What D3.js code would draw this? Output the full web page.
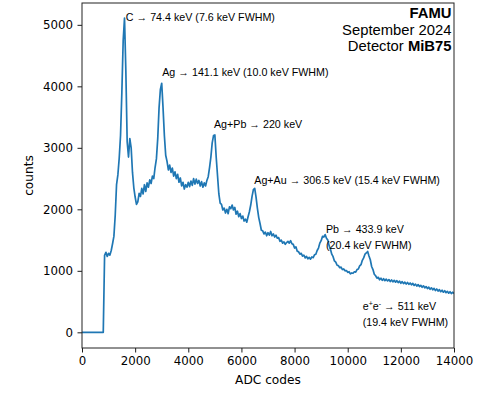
<!DOCTYPE html>
<html>
<head>
<meta charset="utf-8">
<script src="https://cdn.jsdelivr.net/npm/d3@7"></script>
<style>
  body { margin: 0; background: #fff; }
  .tick text { font-family: "DejaVu Sans", sans-serif; font-size: 11.8px; fill: #000; }
  .axisText { font-family: "DejaVu Sans", sans-serif; font-size: 12.2px; fill: #000; }
  .note { font-family: "Liberation Sans", Arial, sans-serif; font-size: 10.7px; fill: #000; }
  .stamp { font-family: "Liberation Sans", Arial, sans-serif; font-size: 14.8px; fill: #000; }
</style>
</head>
<body>
<div class="chart"></div>
<script>
// Spectrum data: counts per ADC bin (bin width 50 ADC codes, starting at 0)
var binWidth = 50;
var counts = [
  0, 0, 0, 0, 0, 0, 0, 0, 0, 0,
  0, 0, 0, 0, 0, 0, 0, 1250, 1300, 1235,
  1285, 1255, 1330, 1440, 1560, 1900, 2400, 2560, 2830, 3200,
  3900, 4750, 5110, 4250, 3100, 2850, 3150, 3000, 2600, 2350,
  2200, 2080, 2120, 2260, 2210, 2340, 2250, 2400, 2290, 2430,
  2360, 2480, 2420, 2540, 2500, 2680, 2820, 3150, 3650, 3950,
  4050, 3650, 3200, 2880, 2780, 2640, 2720, 2600, 2670, 2540,
  2610, 2500, 2570, 2440, 2510, 2380, 2440, 2330, 2400, 2360,
  2440, 2370, 2460, 2390, 2500, 2410, 2490, 2420, 2470, 2380,
  2450, 2360, 2430, 2380, 2470, 2530, 2680, 2850, 3080, 3200,
  3210, 2850, 2550, 2250, 2100, 2080, 1990, 2020, 1940, 2000,
  1930, 2040, 2010, 2070, 1990, 2030, 1920, 1970, 1880, 1930,
  1850, 1890, 1810, 1840, 1790, 1880, 1960, 2070, 2210, 2320,
  2340, 2200, 2020, 1870, 1770, 1660, 1650, 1600, 1630, 1570,
  1620, 1580, 1640, 1570, 1600, 1550, 1580, 1530, 1540, 1480,
  1500, 1450, 1470, 1430, 1460, 1480, 1450, 1490, 1440, 1430,
  1370, 1390, 1320, 1310, 1270, 1285, 1240, 1255, 1210, 1235,
  1195, 1220, 1190, 1225, 1215, 1260, 1270, 1330, 1370, 1450,
  1490, 1560, 1550, 1590, 1530, 1500, 1410, 1350, 1270, 1230,
  1160, 1140, 1090, 1085, 1050, 1060, 1020, 1030, 1000, 1005,
  975, 985, 950, 965, 960, 985, 980, 1020, 1030, 1080,
  1100, 1170, 1210, 1270, 1290, 1315, 1240, 1180, 1070, 1020,
  945, 920, 880, 895, 855, 880, 845, 872, 840, 865,
  835, 858, 826, 852, 820, 846, 815, 840, 808, 832,
  798, 824, 792, 816, 786, 810, 780, 802, 772, 796,
  762, 784, 752, 776, 744, 764, 732, 756, 722, 744,
  710, 734, 700, 724, 690, 714, 680, 704, 670, 694,
  660, 684, 652, 676, 644, 666, 636, 660, 630, 652,
  630
];

var xTicks = [0, 2000, 4000, 6000, 8000, 10000, 12000, 14000];
var yTicks = [0, 1000, 2000, 3000, 4000, 5000];

// Peak labels, anchored in data coordinates (ADC code, counts)
var peakText = [
  ["C \u2192 74.4 keV (7.6 keV FWHM)"],
  ["Ag \u2192 141.1 keV (10.0 keV FWHM)"],
  ["Ag+Pb \u2192 220 keV"],
  ["Ag+Au \u2192 306.5 keV (15.4 keV FWHM)"],
  ["Pb \u2192 433.9 keV", "(20.4 keV FWHM)"],
  ["e+e- \u2192 511 keV", "(19.4 keV FWHM)"]
];
var peakAdc = [1650, 3020, 4967, 6484, 9182, 10563];
var peakCounts = [5059, 4165, 3320, 2410, 1614, 370];

var stampLines = ["FAMU", "September 2024", "Detector MiB75"];

// SVG area
var svgWidth = 486;
var svgHeight = 394;

var margin = {
  top: 3,
  right: 32,
  bottom: 46,
  left: 82
};

var width = svgWidth - margin.left - margin.right;
var height = svgHeight - margin.top - margin.bottom;

var svg = d3.select(".chart")
  .append("svg")
  .attr("width", svgWidth)
  .attr("height", svgHeight);

var chartGroup = svg.append("g")
  .attr("transform", `translate(${margin.left}, ${margin.top})`);

var spectrum = counts.map(function(c, i) {
  return { adc: i * binWidth, count: c };
});

// Scales
var xLinearScale = d3.scaleLinear()
  .domain([0, 14000])
  .range([0, width]);

var yLinearScale = d3.scaleLinear()
  .domain([-255, 5355])
  .range([height, 0]);

// Axes
var bottomAxis = d3.axisBottom(xLinearScale).tickValues(xTicks)
  .tickFormat(d3.format("d")).tickSize(4.5).tickPadding(4);
var leftAxis = d3.axisLeft(yLinearScale).tickValues(yTicks)
  .tickFormat(d3.format("d")).tickSize(4.5).tickPadding(4.5);

chartGroup.append("defs").append("clipPath")
  .attr("id", "plotClip")
  .append("rect")
  .attr("width", width)
  .attr("height", height);

// Spectrum line
var line = d3.line()
  .x(d => xLinearScale(d.adc))
  .y(d => yLinearScale(d.count));

chartGroup.append("path")
  .datum(spectrum)
  .attr("clip-path", "url(#plotClip)")
  .attr("fill", "none")
  .attr("stroke", "#1f77b4")
  .attr("stroke-width", 1.7)
  .attr("stroke-linejoin", "round")
  .attr("d", line);

var xAxisG = chartGroup.append("g")
  .attr("transform", `translate(0, ${height})`)
  .call(bottomAxis);

var yAxisG = chartGroup.append("g")
  .call(leftAxis);

[xAxisG, yAxisG].forEach(function(g) {
  g.select(".domain").remove();
  g.selectAll(".tick line").attr("stroke", "#000").attr("stroke-width", 0.9);
});

// Frame
chartGroup.append("rect")
  .attr("width", width)
  .attr("height", height)
  .attr("fill", "none")
  .attr("stroke", "#222")
  .attr("stroke-width", 1);

// Peak annotations
peakText.forEach(function(lines, i) {
  var t = chartGroup.append("text")
    .attr("class", "note")
    .attr("x", xLinearScale(peakAdc[i]))
    .attr("y", yLinearScale(peakCounts[i]));
  lines.forEach(function(s, j) {
    var ts = t.append("tspan")
      .attr("x", xLinearScale(peakAdc[i]))
      .attr("dy", j === 0 ? 0 : 16);
    if (s.indexOf("e+e-") === 0) {
      ts.append("tspan").text("e");
      ts.append("tspan").attr("font-size", "7px").attr("dy", -4).text("+");
      ts.append("tspan").attr("dy", 4).text("e");
      ts.append("tspan").attr("font-size", "7px").attr("dy", -4).text("-");
      ts.append("tspan").attr("dy", 4).text(s.slice(4));
    } else {
      ts.text(s);
    }
  });
});

// Stamp in the top right corner
var stamp = chartGroup.append("text")
  .attr("class", "stamp")
  .attr("text-anchor", "end")
  .attr("x", width - 2.5)
  .attr("y", 15);

stamp.append("tspan").attr("x", width - 2.5).attr("dy", 0)
  .attr("font-weight", "bold").text(stampLines[0]);
stamp.append("tspan").attr("x", width - 2.5).attr("dy", 16.5).text(stampLines[1]);
var det = stamp.append("tspan").attr("x", width - 2.5).attr("dy", 16.5);
det.append("tspan").text(stampLines[2].split(" ")[0] + " ");
det.append("tspan").attr("font-weight", "bold").text(stampLines[2].split(" ")[1]);

// Axes labels
chartGroup.append("text")
  .attr("transform", "rotate(-90)")
  .attr("y", -margin.left + 29)
  .attr("x", -(height / 2))
  .attr("dy", "0.35em")
  .attr("text-anchor", "middle")
  .attr("class", "axisText")
  .text("counts");

chartGroup.append("text")
  .attr("x", width / 2)
  .attr("y", height + 36)
  .attr("text-anchor", "middle")
  .attr("class", "axisText")
  .text("ADC codes");
</script>
</body>
</html>
